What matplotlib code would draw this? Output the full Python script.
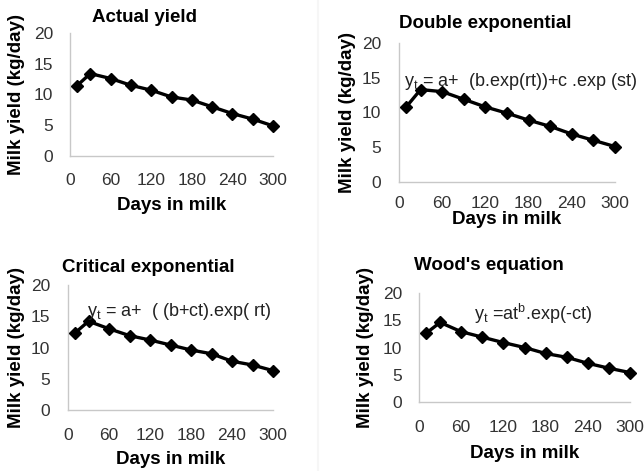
import matplotlib
matplotlib.use("Agg")
import matplotlib.pyplot as plt

plt.rcParams["font.family"] = ["Liberation Sans", "DejaVu Sans"]
plt.rcParams["mathtext.fontset"] = "custom"
plt.rcParams["mathtext.rm"] = "Liberation Sans"

days = [10, 30, 60, 90, 120, 150, 180, 210, 240, 270, 300]
actual = [11.4, 13.4, 12.6, 11.5, 10.7, 9.6, 9.1, 8.0, 6.9, 6.0, 4.9]
double_exp = [10.8, 13.3, 13.0, 11.9, 10.8, 9.9, 8.9, 8.0, 6.9, 6.0, 5.1]
critical = [12.3, 14.2, 13.0, 11.9, 11.2, 10.4, 9.6, 9.0, 7.8, 7.2, 6.3]
wood = [12.6, 14.6, 12.9, 11.9, 10.9, 10.0, 8.9, 8.2, 7.1, 6.2, 5.4]

xticks = [0, 60, 120, 180, 240, 300]
yticks = [0, 5, 10, 15, 20]

W, H = 644, 471
fig = plt.figure(figsize=(W / 100, H / 100), dpi=100)

# (title, data, equation, axes box px [l, r, top, bottom], title xy, eq xy, xlabel y, ylabel x, xtick pad, ytick pad)
panels = [
    ("Actual yield", actual, None, (70, 273, 33, 156), (145, 17), None, 205, 17, 12, 12),
    ("Double exponential", double_exp, r"y$_\mathregular{t}$ = a+  (b.exp(rt))+c .exp (st)",
     (399, 615, 43, 182), (485, 24), (404, 81), 220, 347, 10, 13),
    ("Critical exponential", critical, r"y$_\mathregular{t}$ = a+  ( (b+ct).exp( rt)",
     (68, 273, 285, 410), (148, 268), (87, 311), 460, 17, 13, 13),
    ("Wood's equation", wood, r"y$_\mathregular{t}$ =at$^\mathregular{b}$.exp(-ct)",
     (419, 630, 293, 402), (489, 265), (474, 314), 453, 365, 13, 12),
]

for title, vals, eq, box, txy, exy, xly, ylx, xpad, ypad in panels:
    l, r, t, b = box
    ax = fig.add_axes([l / W, 1 - b / H, (r - l) / W, (b - t) / H])
    ax.plot(days, vals, color="black", lw=2.4, marker="D", ms=6.5, zorder=3, clip_on=False)
    ax.set_xlim(0, 300); ax.set_ylim(0, 20)
    ax.set_xticks(xticks); ax.set_yticks(yticks)
    ax.tick_params(length=0, labelsize=12.5, labelcolor="#333333")
    ax.tick_params(axis="x", pad=xpad)
    ax.tick_params(axis="y", pad=ypad)
    for s in ("top", "right"):
        ax.spines[s].set_visible(False)
    for s in ("left", "bottom"):
        ax.spines[s].set_color("#c8c8c8"); ax.spines[s].set_linewidth(1.0)
    fig.text(txy[0] / W, 1 - txy[1] / H, title, ha="center", va="center",
             fontsize=13.5, fontweight="bold")
    fig.text((l + r) / 2 / W, 1 - xly / H, "Days in milk", ha="center", va="center",
             fontsize=13.5, fontweight="bold")
    fig.text(ylx / W, 1 - (t + b) / 2 / H, "Milk yield (kg/day)", ha="center", va="center",
             rotation=90, fontsize=13.5, fontweight="bold")
    if eq:
        fig.text(exy[0] / W, 1 - exy[1] / H, eq, ha="left", va="center", fontsize=13,
                 color="#222222")

fig.add_artist(plt.Line2D([318 / W, 318 / W], [0, 1], color="#f6f6f6", lw=1.5))
fig.savefig("out.png", dpi=100, facecolor="white")
